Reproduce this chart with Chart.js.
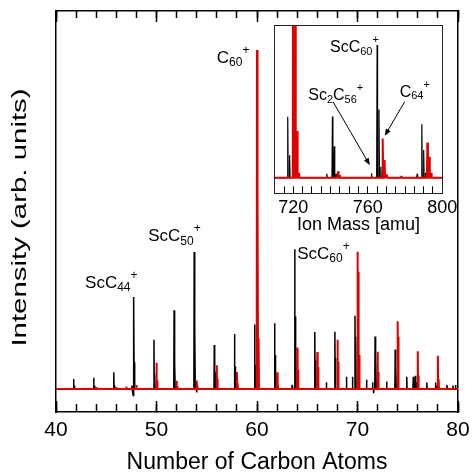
<!DOCTYPE html>
<html>
<head>
<meta charset="utf-8">
<script src="https://cdn.jsdelivr.net/npm/chart.js@4.4.1/dist/chart.umd.min.js"></script>
<style>
  html, body { margin: 0; padding: 0; background: #fff; }
  #wrap { position: relative; width: 472px; height: 473px; }
  #main { position: absolute; left: 0; top: 0; }
  #inset { position: absolute; left: 262px; top: 20px; }
</style>
</head>
<body>
<div id="wrap">
  <canvas id="main" width="472" height="473"></canvas>
  <canvas id="inset" width="200" height="215"></canvas>
</div>
<script>
// main spectrum, x in carbon-atom units (mass / 12)
var scPos = [41.75, 41.83, 43.75, 43.83, 45.75, 45.83, 47.55, 47.68, 47.75, 47.83,
  49.75, 49.83, 51.75, 51.83, 53.75, 53.83, 54.0, 55.75, 55.83, 57.75, 57.83,
  59.75, 59.83, 61.75, 61.83, 63.5, 63.75, 63.83, 63.92, 65.75, 65.83, 66.9,
  67.75, 67.83, 68.9, 69.5, 69.75, 69.83, 70.9, 71.5, 71.6, 71.75, 71.83, 72.9,
  73.75, 73.83, 74.9, 75.55, 75.75, 75.83, 76.9, 77.75, 77.83, 78.9, 79.5, 79.75];
var scVal = [0.029, 0.010, 0.033, 0.010, 0.049, 0.012, 0.010, -0.020, 0.271, 0.079,
  0.145, 0.045, 0.232, 0.079, 0.404, 0.173, -0.010, 0.130, 0.050, 0.162, 0.066,
  0.190, 0.071, 0.194, 0.100, 0.012, 0.412, 0.214, 0.034, 0.168, 0.085, 0.020,
  0.169, 0.091, 0.036, 0.036, 0.216, 0.154, 0.027, 0.020, -0.013, 0.155, 0.110, 0.022,
  0.116, 0.061, 0.036, 0.036, 0.039, 0.020, 0.019, 0.019, 0.010, 0.012, 0.010, 0.012];
var cPos = [44.0, 46.0, 47.0, 48.0, 50.0, 50.08, 52.0, 52.08, 54.0, 54.08, 56.0, 56.08,
  58.0, 58.08, 60.0, 60.08, 60.17, 62.0, 62.08, 64.0, 64.08, 66.0, 66.08, 68.0, 68.08,
  70.0, 70.08, 70.17, 72.0, 72.08, 74.0, 74.08, 76.0, 76.08, 78.0, 78.08];
var cVal = [0.005, 0.005, 0.007, 0.012, 0.077, 0.025, 0.024, 0.008, 0.025, 0.010, 0.070, 0.030,
  0.050, 0.018, 1.000, 0.567, 0.150, 0.049, 0.020, 0.122, 0.056, 0.109, 0.065, 0.145, 0.080,
  0.405, 0.346, 0.100, 0.110, 0.050, 0.200, 0.154, 0.111, 0.040, 0.098, 0.030];

// inset, x in amu
var insScMass = [717, 718, 738, 741, 742, 743, 762, 765, 766, 767, 778, 786.5, 789, 790, 791];
var insScVal = [0.189, 0.070, 0.012, 0.190, 0.098, 0.012, 0.014, 0.412, 0.212, 0.034, 0.006, 0.012, 0.166, 0.086, 0.015];
var insCMass = [720, 721, 722, 723, 744, 745, 768, 769, 770, 792, 793, 794];
var insCVal = [1.000, 0.600, 0.145, 0.015, 0.020, 0.008, 0.122, 0.055, 0.010, 0.109, 0.065, 0.015];

var mainLabels = [
  { x: 56.0, y: 0.962, parts: [['C', ''], ['60', 'sub'], ['+', 'sup']] },
  { x: 42.89, y: 0.297, parts: [['ScC', ''], ['44', 'sub'], ['+', 'sup']] },
  { x: 49.18, y: 0.435, parts: [['ScC', ''], ['50', 'sub'], ['+', 'sup']] },
  { x: 64.0, y: 0.383, parts: [['ScC', ''], ['60', 'sub'], ['+', 'sup']] }
];
var insetLabels = [
  { x: 739.7, y: 0.391, parts: [['ScC', ''], ['60', 'sub'], ['+', 'sup']] },
  { x: 728.0, y: 0.241, parts: [['Sc', ''], ['2', 'sub'], ['C', ''], ['56', 'sub'], ['+', 'sup']] },
  { x: 777.1, y: 0.252, parts: [['C', ''], ['64', 'sub'], ['+', 'sup']] }
];
var insetArrows = [
  { x0: 741.3, y0: 0.236, x1: 761.1, y1: 0.039 },
  { x0: 779.8, y0: 0.236, x1: 769.1, y1: 0.130 }
];

var RED = '#e00000';
var FONT = '"Liberation Sans", Arial, sans-serif';

function spikes(pos, val, half, lo, hi) {
  var pts = [{ x: lo, y: 0 }];
  pos.forEach(function (p, i) {
    pts.push({ x: p - half, y: 0 }, { x: p, y: val[i] }, { x: p + half, y: 0 });
  });
  pts.push({ x: hi, y: 0 });
  return pts;
}

function drawRich(ctx, parts, x, y, size, small) {
  parts.forEach(function (p) {
    var fs = p[1] ? small : size;
    var dy = p[1] === 'sub' ? size * 0.18 : (p[1] === 'sup' ? -size * 0.55 : 0);
    ctx.font = fs + 'px ' + FONT;
    ctx.fillText(p[0], x, y + dy);
    x += ctx.measureText(p[0]).width;
  });
}

function labelPlugin(list, size, small, arrows) {
  return {
    id: 'peakLabels',
    afterDraw: function (chart) {
      var ctx = chart.ctx, sx = chart.scales.x, sy = chart.scales.y;
      ctx.save();
      ctx.fillStyle = '#000';
      ctx.textBaseline = 'alphabetic';
      ctx.textAlign = 'left';
      list.forEach(function (l) {
        drawRich(ctx, l.parts, sx.getPixelForValue(l.x), sy.getPixelForValue(l.y), size, small);
      });
      (arrows || []).forEach(function (a) {
        var x0 = sx.getPixelForValue(a.x0), y0 = sy.getPixelForValue(a.y0);
        var x1 = sx.getPixelForValue(a.x1), y1 = sy.getPixelForValue(a.y1);
        var ang = Math.atan2(y1 - y0, x1 - x0);
        ctx.strokeStyle = '#000';
        ctx.lineWidth = 1;
        ctx.beginPath();
        ctx.moveTo(x0, y0);
        ctx.lineTo(x1 - 5 * Math.cos(ang), y1 - 5 * Math.sin(ang));
        ctx.stroke();
        ctx.beginPath();
        ctx.moveTo(x1, y1);
        ctx.lineTo(x1 - 7 * Math.cos(ang) + 2.8 * Math.sin(ang), y1 - 7 * Math.sin(ang) - 2.8 * Math.cos(ang));
        ctx.lineTo(x1 - 7 * Math.cos(ang) - 2.8 * Math.sin(ang), y1 - 7 * Math.sin(ang) + 2.8 * Math.cos(ang));
        ctx.closePath();
        ctx.fill();
      });
      ctx.restore();
    }
  };
}

// the y title of the original is drawn long and narrow
var yTitle = {
  id: 'yTitle',
  afterDraw: function (chart) {
    var ctx = chart.ctx, area = chart.chartArea;
    ctx.save();
    ctx.translate(20, (area.top + area.bottom) / 2 + 6);
    ctx.rotate(-Math.PI / 2);
    ctx.scale(1.47, 1);
    ctx.font = '20px ' + FONT;
    ctx.fillStyle = '#000';
    ctx.textAlign = 'center';
    ctx.textBaseline = 'middle';
    ctx.fillText('Intensity (arb. units)', 0, 0);
    ctx.restore();
  }
};

function setH(h) { return function (s) { s.height = h; s.paddingLeft = 0; s.paddingRight = 0; }; }
function setW(w) { return function (s) { s.width = w; s.paddingTop = 0; s.paddingBottom = 0; }; }

function tickAxis(pos, min, max, step, len, weight, border, fit) {
  return {
    type: 'linear', position: pos, min: min, max: max, weight: weight,
    ticks: { display: false, stepSize: step },
    grid: { drawOnChartArea: false, drawTicks: len !== 0, tickLength: len, tickWidth: 1.5, tickColor: '#000' },
    border: { display: border, color: '#000', width: 1.5 },
    afterFit: fit
  };
}

var mainScales = {
  x: {
    type: 'linear', position: 'bottom', min: 40, max: 80, weight: 1,
    ticks: { stepSize: 10, color: '#000', font: { family: FONT, size: 21 }, padding: 17, maxRotation: 0, autoSkip: false },
    grid: { drawOnChartArea: false, tickLength: -11, tickWidth: 1.5, tickColor: '#000' },
    border: { color: '#000', width: 1.5 },
    title: { display: true, text: 'Number of Carbon Atoms', color: '#000', font: { family: FONT, size: 23 }, padding: { top: 0, bottom: -3 } },
    afterFit: setH(61)
  },
  xMinor: tickAxis('bottom', 40, 80, 2, -8, 0, false, setH(0)),
  xTop: tickAxis('top', 40, 80, 10, -11, 1, true, setH(0)),
  xTopMinor: tickAxis('top', 40, 80, 2, -7, 0, false, setH(0)),
  y: {
    type: 'linear', position: 'left', min: -0.068, max: 1.115,
    ticks: { display: false },
    grid: { drawOnChartArea: false, drawTicks: false },
    border: { color: '#000', width: 1.5 },
    afterFit: setW(56)
  },
  yRight: tickAxis('right', -0.068, 1.115, 1, 0, 0, true, setW(0))
};

new Chart(document.getElementById('main'), {
  type: 'line',
  data: {
    datasets: [
      { label: 'C', data: spikes(cPos, cVal, 0.03, 40, 80), borderColor: RED, borderWidth: 2, order: 1 },
      { label: 'ScC', data: spikes(scPos, scVal, 0.03, 40, 80), borderColor: '#000', borderWidth: 1.5, order: 2 }
    ]
  },
  options: {
    responsive: false, animation: false,
    layout: { padding: { top: 11, right: 14, left: 0, bottom: 0 } },
    elements: { point: { radius: 0 }, line: { tension: 0, borderJoinStyle: 'bevel' } },
    plugins: { legend: { display: false }, tooltip: { enabled: false } },
    scales: mainScales
  },
  plugins: [labelPlugin(mainLabels, 17, 12), yTitle]
});

var insetScales = {
  x: {
    type: 'linear', position: 'bottom', min: 710, max: 800,
    ticks: {
      stepSize: 5, color: '#000', font: { family: FONT, size: 18 }, padding: 11, maxRotation: 0, autoSkip: false,
      callback: function (v) { return v % 40 === 0 ? String(v) : ''; }
    },
    grid: { drawOnChartArea: false, tickLength: -7, tickWidth: 1, tickColor: '#000' },
    border: { color: '#222', width: 1 },
    title: { display: true, text: 'Ion Mass [amu]', color: '#000', font: { family: FONT, size: 18 }, padding: { top: 0, bottom: -1 } },
    afterFit: setH(41.7)
  },
  xTop: {
    type: 'linear', position: 'top', min: 710, max: 800,
    ticks: { display: false }, grid: { drawOnChartArea: false, drawTicks: false },
    border: { color: '#222', width: 1 }, afterFit: setH(0)
  },
  y: {
    type: 'linear', position: 'left', min: -0.0484, max: 0.472,
    ticks: { display: false }, grid: { drawOnChartArea: false, drawTicks: false },
    border: { color: '#222', width: 1 }, afterFit: setW(12.7)
  },
  yRight: {
    type: 'linear', position: 'right', min: -0.0484, max: 0.472,
    ticks: { display: false }, grid: { drawOnChartArea: false, drawTicks: false },
    border: { color: '#222', width: 1 }, afterFit: setW(0)
  }
};

new Chart(document.getElementById('inset'), {
  type: 'line',
  data: {
    datasets: [
      { label: 'C', data: spikes(insCMass, insCVal, 0.3, 710, 800), borderColor: RED, borderWidth: 2, order: 1 },
      { label: 'ScC', data: spikes(insScMass, insScVal, 0.25, 710, 800), borderColor: '#000', borderWidth: 1.2, order: 2 }
    ]
  },
  options: {
    responsive: false, animation: false,
    layout: { padding: { top: 5.7, right: 19.7, left: 0, bottom: 0 } },
    elements: { point: { radius: 0 }, line: { tension: 0, borderJoinStyle: 'bevel' } },
    plugins: { legend: { display: false }, tooltip: { enabled: false } },
    scales: insetScales
  },
  plugins: [labelPlugin(insetLabels, 16, 11, insetArrows)]
});
</script>
</body>
</html>
